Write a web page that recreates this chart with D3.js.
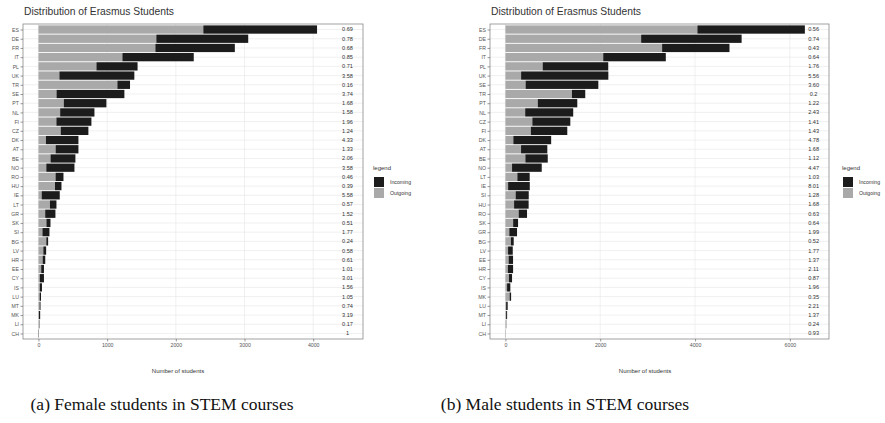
<!DOCTYPE html>
<html>
<head>
<meta charset="utf-8">
<script src="https://cdn.jsdelivr.net/npm/d3@7"></script>
<style>
  body { margin: 0; background: #fff; }
  svg { display: block; }
</style>
</head>
<body>
<svg id="fig" width="885" height="423"></svg>
<script>
// Female STEM students: country codes (largest total first), outgoing, incoming, incoming/outgoing ratio
const femaleCountries = ["ES","DE","FR","IT","PL","UK","TR","SE","PT","NL","FI","CZ","DK","AT","BE","NO","RO","HU","IE","LT","GR","SK","SI","BG","LV","HR","EE","CY","IS","LU","MT","MK","LI","CH"];
const femaleOutgoing = [2400,1716,1702,1222,844,305,1149,263,369,316,261,324,109,250,176,114,249,241,47,167,98,116,58,114,71,61,40,20,20,18,17,6,17,4];
const femaleIncoming = [1656,1338,1157,1039,599,1091,184,988,620,499,510,403,473,332,362,410,115,94,263,95,149,59,102,27,41,38,40,60,31,19,13,19,3,4];
const femaleRatio = ["0.69","0.78","0.68","0.85","0.71","3.58","0.16","3.74","1.68","1.58","1.96","1.24","4.33","1.33","2.06","3.58","0.46","0.39","5.58","0.57","1.52","0.51","1.77","0.24","0.58","0.61","1.01","3.01","1.56","1.05","0.74","3.19","0.17","1"];

// Male STEM students
const maleCountries = ["ES","DE","FR","IT","PL","UK","SE","TR","PT","NL","CZ","FI","DK","AT","BE","NO","LT","IE","SI","HU","RO","SK","GR","BG","LV","EE","HR","CY","IS","MK","LU","MT","LI","CH"];
const maleOutgoing = [4049,2863,3305,2063,786,331,426,1403,683,417,568,537,167,330,421,140,252,57,216,183,280,163,82,115,56,68,52,75,35,89,15,15,17,3];
const maleIncoming = [2267,2119,1421,1320,1383,1840,1534,281,833,1013,801,768,798,554,472,626,260,457,276,307,176,104,163,60,99,93,110,65,69,31,33,21,4,3];
const maleRatio = ["0.56","0.74","0.43","0.64","1.76","5.56","3.60","0.2","1.22","2.43","1.41","1.43","4.78","1.68","1.12","4.47","1.03","8.01","1.28","1.68","0.63","0.64","1.99","0.52","1.77","1.37","2.11","0.87","1.96","0.35","2.21","1.37","0.24","0.93"];

const femaleTicks = [0, 1000, 2000, 3000, 4000];
const maleTicks = [0, 2000, 4000, 6000];
const legendLabels = ["Incoming", "Outgoing"];
const captions = ["(a) Female students in STEM courses", "(b) Male students in STEM courses"];

const INCOMING = "#1c1c1c", OUTGOING = "#a9a9a9";
const SANS = "Liberation Sans, Arial, sans-serif";
const svg = d3.select("#fig");

function drawPanel(cfg) {
  const g = svg.append("g");
  const x = d3.scaleLinear().domain(cfg.xDomain).range([cfg.left, cfg.right]);
  const y = d3.scalePoint().domain(cfg.countries).range([cfg.top, cfg.bottom]).padding(0.6);
  const barH = y.step() * 0.9;

  // plot title
  g.append("text").attr("x", cfg.left + 1).attr("y", 14.5)
    .attr("font-family", SANS).attr("font-size", 10.3)
    .attr("fill", "#333").text("Distribution of Erasmus Students");

  // panel background
  g.append("rect").attr("x", cfg.left).attr("y", cfg.top)
    .attr("width", cfg.right - cfg.left).attr("height", cfg.bottom - cfg.top)
    .attr("fill", "#fff");

  // grid
  g.append("g").selectAll("line").data(cfg.ticks).join("line")
    .attr("x1", d => x(d)).attr("x2", d => x(d))
    .attr("y1", cfg.top).attr("y2", cfg.bottom)
    .attr("stroke", "#e6e6e6").attr("stroke-width", 0.6);
  g.append("g").selectAll("line").data(cfg.countries).join("line")
    .attr("x1", cfg.left).attr("x2", cfg.right)
    .attr("y1", d => y(d)).attr("y2", d => y(d))
    .attr("stroke", "#e6e6e6").attr("stroke-width", 0.6);

  const rows = cfg.countries.map((c, i) => ({
    c, out: cfg.outgoing[i], inc: cfg.incoming[i], ratio: cfg.ratio[i]
  }));

  // stacked bars: outgoing first, incoming on top of it
  g.append("g").selectAll("rect").data(rows).join("rect")
    .attr("x", d => x(0)).attr("width", d => x(d.out) - x(0))
    .attr("y", d => y(d.c) - barH / 2).attr("height", barH)
    .attr("fill", OUTGOING);
  g.append("g").selectAll("rect").data(rows).join("rect")
    .attr("x", d => x(d.out)).attr("width", d => x(d.out + d.inc) - x(d.out))
    .attr("y", d => y(d.c) - barH / 2).attr("height", barH)
    .attr("fill", INCOMING);

  // ratio labels
  g.append("g").selectAll("text").data(rows).join("text")
    .attr("x", x(cfg.labelAt)).attr("y", d => y(d.c))
    .attr("dy", "0.35em").attr("text-anchor", "middle")
    .attr("font-family", SANS).attr("font-size", 5.6)
    .attr("fill", "#333").text(d => d.ratio);

  // panel border
  g.append("rect").attr("x", cfg.left).attr("y", cfg.top)
    .attr("width", cfg.right - cfg.left).attr("height", cfg.bottom - cfg.top)
    .attr("fill", "none").attr("stroke", "#8a8a8a").attr("stroke-width", 0.8);

  // axes
  const yAxis = g.append("g").attr("transform", `translate(${cfg.left},0)`)
    .call(d3.axisLeft(y).tickSize(2.5).tickPadding(1.5));
  const xAxis = g.append("g").attr("transform", `translate(0,${cfg.bottom})`)
    .call(d3.axisBottom(x).tickValues(cfg.ticks).tickSize(2.5).tickPadding(2).tickFormat(d3.format("d")));
  [yAxis, xAxis].forEach(a => {
    a.select(".domain").remove();
    a.selectAll("line").attr("stroke", "#555").attr("stroke-width", 0.6);
    a.selectAll("text").attr("font-family", SANS)
      .attr("font-size", 5.2).attr("fill", "#555");
  });

  // axis title
  g.append("text").attr("x", cfg.axisTitleX).attr("y", 373)
    .attr("text-anchor", "middle")
    .attr("font-family", SANS).attr("font-size", 6)
    .attr("fill", "#333").text("Number of students");

  // legend
  const lg = g.append("g").attr("transform", `translate(${cfg.legendX},0)`);
  lg.append("text").attr("x", 0).attr("y", 170)
    .attr("font-family", SANS).attr("font-size", 6)
    .attr("fill", "#333").text("legend");
  [INCOMING, OUTGOING].forEach((col, i) => {
    lg.append("rect").attr("x", 1).attr("y", 177 + i * 11).attr("width", 10).attr("height", 10)
      .attr("fill", col);
    lg.append("text").attr("x", 17).attr("y", 182 + i * 11).attr("dy", "0.35em")
      .attr("font-family", SANS).attr("font-size", 5.2)
      .attr("fill", "#333").text(legendLabels[i]);
  });

  // caption
  svg.append("text").attr("x", cfg.captionX).attr("y", 410)
    .attr("text-anchor", "middle")
    .attr("font-family", "Liberation Serif, Times New Roman, serif").attr("font-size", 17.5)
    .attr("fill", "#111").text(cfg.caption);
}

drawPanel({
  countries: femaleCountries, outgoing: femaleOutgoing, incoming: femaleIncoming, ratio: femaleRatio,
  ticks: femaleTicks, xDomain: [-225, 4725], labelAt: 4500,
  left: 23, right: 363, top: 24, bottom: 339, legendX: 373, axisTitleX: 178,
  caption: captions[0], captionX: 162
});
drawPanel({
  countries: maleCountries, outgoing: maleOutgoing, incoming: maleIncoming, ratio: maleRatio,
  ticks: maleTicks, xDomain: [-325, 6825], labelAt: 6500,
  left: 490, right: 829, top: 24, bottom: 339, legendX: 842, axisTitleX: 645,
  caption: captions[1], captionX: 565
});
</script>
</body>
</html>
